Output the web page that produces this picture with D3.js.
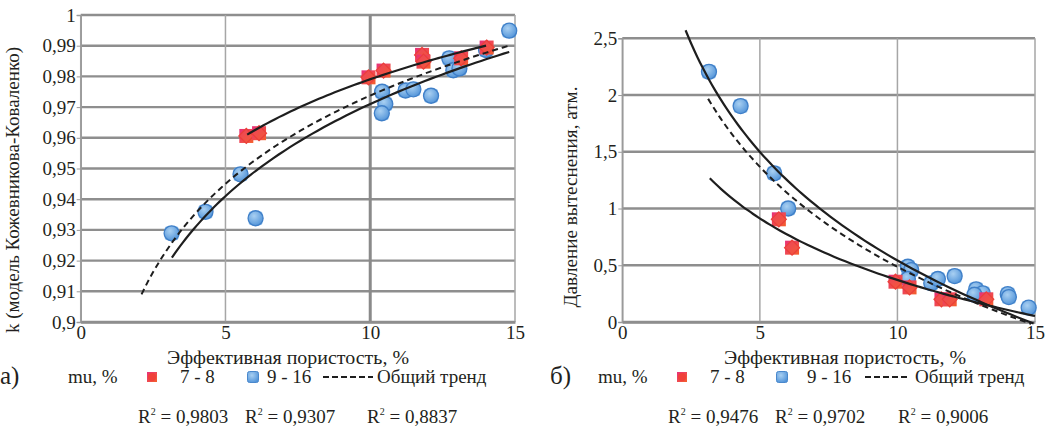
<!DOCTYPE html>
<html><head><meta charset="utf-8">
<script src="https://cdn.jsdelivr.net/npm/d3@7"></script>
<style>body{margin:0;background:#fff}svg{display:block}</style>
</head><body><svg id="c" width="1045" height="429"></svg>
<script>
// ---- data: panel a) k (Kozhevnikov-Kovalenko model) vs effective porosity
const kRed = [[5.72,0.9606],[6.16,0.9615],[9.94,0.9797],[10.46,0.9819],[11.79,0.987],[11.84,0.9848],[13.14,0.9859],[14.02,0.9894]];
const kBlue = [[3.14,0.9289],[4.31,0.9359],[5.52,0.9481],[6.04,0.9338],[10.41,0.975],[10.52,0.971],[10.4,0.968],[11.22,0.9754],[11.49,0.9758],[12.1,0.9737],[12.73,0.9859],[12.87,0.982],[13.08,0.9826],[14.0,0.9886],[14.8,0.9949]];
// logarithmic trend lines y = a*ln(x) + b : [a, b, xFrom, xTo]
const kTrendRed = [0.0326, 0.904, 5.75, 14.0];
const kTrendBlue = [0.0433, 0.8713, 3.15, 14.8];
const kTrendAll = [0.0415, 0.8782, 2.1, 14.8];
const kR2 = ["0,9803","0,9307","0,8837"];
// ---- data: panel б) displacement pressure vs effective porosity
const pRed = [[5.69,0.905],[6.17,0.655],[9.93,0.355],[10.44,0.305],[11.6,0.2],[11.9,0.2],[13.23,0.2]];
const pBlue = [[3.15,2.205],[4.3,1.903],[5.52,1.31],[6.03,1.0],[10.38,0.487],[10.5,0.458],[10.38,0.379],[11.23,0.341],[11.47,0.379],[12.08,0.405],[12.86,0.288],[13.1,0.253],[12.8,0.24],[14.01,0.245],[14.05,0.22],[14.77,0.126]];
const pTrendRed = [-0.783, 2.173, 3.18, 15.0];
const pTrendBlue = [-1.38, 3.72, 2.3, 14.95];
const pTrendAll = [-1.271, 3.413, 3.12, 14.86];
const pR2 = ["0,9476","0,9702","0,9006"];
// ---- axis ticks / labels
const xTicks = [0,5,10,15];
const kTicks = [0.9,0.91,0.92,0.93,0.94,0.95,0.96,0.97,0.98,0.99,1];
const pTicks = [0,0.5,1,1.5,2,2.5];
const xTitle = "Эффективная пористость, %";
const kTitle = "k (модель Кожевникова-Коваленко)";
const pTitle = "Давление вытеснения, атм.";
const legendLabels = ["mu, %","7 - 8","9 - 16","Общий тренд"];
const panelLabels = ["а)","б)"];

const FONT = "'Liberation Serif', 'Times New Roman', serif";
const svg = d3.select("#c").style("font-family", FONT);
const fmt = v => d3.format(".2~f")(v).replace(".", ",");
const txt = (sel, size) => sel.style("font-family", FONT).style("font-size", size+"px").attr("fill","#231f20");

const defs = svg.append("defs");
const gB = defs.append("radialGradient").attr("id","gb").attr("cx","40%").attr("cy","35%").attr("r","70%");
gB.append("stop").attr("offset","0%").attr("stop-color","#a9d0f2");
gB.append("stop").attr("offset","100%").attr("stop-color","#4f92d8");
const gR = defs.append("linearGradient").attr("id","gr").attr("x1","0").attr("y1","0").attr("x2","1").attr("y2","1");
gR.append("stop").attr("offset","0%").attr("stop-color","#e8307a");
gR.append("stop").attr("offset","100%").attr("stop-color","#f5602a");

function panel(o){
  const g = svg.append("g");
  const x = d3.scaleLinear().domain([0,15]).range(o.xr);
  const y = d3.scaleLinear().domain(o.yd).range([322, o.ytop]);
  // horizontal grid
  g.selectAll(".hg").data(o.yt).join("line")
    .attr("x1",x(0)).attr("x2",x(15)).attr("y1",d=>y(d)).attr("y2",d=>y(d))
    .attr("stroke","#8e8e8e").attr("stroke-width",2.4);
  // vertical grid
  g.selectAll(".vg").data(xTicks).join("line")
    .attr("x1",d=>x(d)).attr("x2",d=>x(d)).attr("y1",y(o.yd[0])).attr("y2",y(o.yd[1]))
    .attr("stroke", d=> (o.thick10 && d===10) ? "#8a8a8a" : "#a6a6a6")
    .attr("stroke-width", d=> (o.thick10 && d===10) ? 3 : 1.5);
  // axes
  const ay = g.append("g").attr("transform",`translate(${x(0)},0)`)
    .call(d3.axisLeft(y).tickValues(o.yt).tickFormat(fmt).tickSize(4).tickPadding(1));
  const ax = g.append("g").attr("transform",`translate(0,${y(o.yd[0])})`)
    .call(d3.axisBottom(x).tickValues(xTicks).tickFormat(d=>d).tickSize(0).tickPadding(4));
  [ax,ay].forEach(a=>{a.attr("font-family",null);
    a.select(".domain").attr("stroke","#9a9a9a").attr("stroke-width",1.5);
    a.selectAll("line").attr("stroke","#9a9a9a");
    txt(a.selectAll("text"), 19);});
  ax.select(".domain").attr("stroke","#8e8e8e").attr("stroke-width",2.4);
  // markers: blue
  const b = g.selectAll(".b").data(o.blue).join("g").attr("transform",d=>`translate(${x(d[0])},${y(d[1])})`);
  b.append("rect").attr("x",-7).attr("y",-7).attr("width",14).attr("height",14).attr("rx",3)
    .attr("fill","#6aa8e2").attr("opacity",0.75);
  b.append("circle").attr("r",7.5).attr("fill","url(#gb)").attr("stroke","#3f7fc8").attr("stroke-width",1.3);
  // markers: red
  const r = g.selectAll(".r").data(o.red).join("g").attr("transform",d=>`translate(${x(d[0])},${y(d[1])})`);
  r.append("rect").attr("x",-7).attr("y",-7).attr("width",14).attr("height",14).attr("fill","url(#gr)");
  r.append("path").attr("d","M0,-7.5L7.5,0L0,7.5L-7.5,0Z").attr("fill","#f25540").attr("fill-opacity",0.5).attr("stroke","#ea3f3a").attr("stroke-width",1.2);
  // trend lines
  const line = d3.line().x(d=>x(d[0])).y(d=>y(d[1])).curve(d3.curveMonotoneX);
  const tr = t => d3.range(0,61).map(i=>{const xv=t[2]+(t[3]-t[2])*i/60; return [xv, t[0]*Math.log(xv)+t[1]];});
  [[o.tr,"none"],[o.tb,"none"],[o.ta,"6,4"]].forEach(([t,da])=>{
    g.append("path").attr("d",line(tr(t))).attr("fill","none").attr("stroke","#1e1e1e")
     .attr("stroke-width",da==="none"?2.2:2).attr("stroke-dasharray",da);
  });
  // axis titles
  txt(g.append("text").attr("x",o.xtc).attr("y",364).attr("text-anchor","middle")
    .attr("textLength",242).attr("lengthAdjust","spacingAndGlyphs").text(xTitle), 19);
  txt(g.append("text").attr("transform",`translate(${o.ytx},${o.yty}) rotate(-90)`).attr("text-anchor","middle")
    .attr("textLength",o.ytl).attr("lengthAdjust","spacingAndGlyphs").text(o.ytitle), 19);
  // legend
  const L = o.leg;
  txt(g.append("text").attr("x",L.p).attr("y",384).text(o.plabel), 25);
  txt(g.append("text").attr("x",L.mu).attr("y",383).text(legendLabels[0]), 19);
  const lr = g.append("g").attr("transform",`translate(${L.rm},377)`);
  lr.append("rect").attr("x",-5).attr("y",-5).attr("width",10).attr("height",10).attr("fill","url(#gr)");
  lr.append("circle").attr("r",4).attr("fill","#f0403a");
  txt(g.append("text").attr("x",L.r).attr("y",383).text(legendLabels[1]), 19);
  const lb = g.append("g").attr("transform",`translate(${L.bm},377)`);
  lb.append("rect").attr("x",-5.5).attr("y",-5.5).attr("width",11).attr("height",11).attr("rx",2).attr("fill","url(#gb)").attr("stroke","#4a88cc");
  txt(g.append("text").attr("x",L.b).attr("y",383).text(legendLabels[2]), 19);
  g.append("line").attr("x1",L.l1).attr("x2",L.l2).attr("y1",377).attr("y2",377).attr("stroke","#1e1e1e").attr("stroke-width",2).attr("stroke-dasharray","6,3");
  txt(g.append("text").attr("x",L.t).attr("y",383).text(legendLabels[3]), 19);
  o.r2.forEach((v,i)=>{
    const t = txt(g.append("text").attr("x",L.r2[i]).attr("y",423), 19);
    t.append("tspan").text("R");
    t.append("tspan").style("font-size","10px").attr("dy",-8).text("2");
    t.append("tspan").attr("dy",8).text(" = "+v);
  });
}

panel({xr:[80.7,515], yd:[0.9,1], ytop:15, yt:kTicks, red:kRed, blue:kBlue,
  tr:kTrendRed, tb:kTrendBlue, ta:kTrendAll, thick10:true, xtc:288, ytx:19, yty:190, ytl:286, ytitle:kTitle,
  plabel:panelLabels[0], r2:kR2,
  leg:{p:0, mu:68, rm:152, r:180, bm:253, b:267, l1:323, l2:373, t:377, r2:[138,245,367]}});
panel({xr:[622.3,1035], yd:[0,2.5], ytop:38.3, yt:pTicks, red:pRed, blue:pBlue,
  tr:pTrendRed, tb:pTrendBlue, ta:pTrendAll, thick10:false, xtc:845, ytx:577, yty:197, ytl:221, ytitle:pTitle,
  plabel:panelLabels[1], r2:pR2,
  leg:{p:550, mu:598, rm:682, r:710, bm:782, b:807, l1:865, l2:908, t:915, r2:[668,775,898]}});
</script></body></html>
